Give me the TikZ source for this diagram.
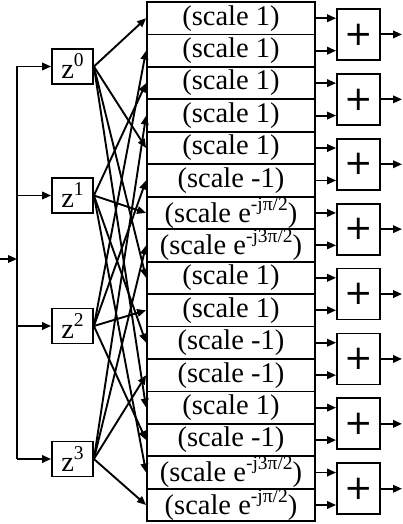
\documentclass[tikz,border=0pt]{standalone}
\usepackage{fontspec}
\setmainfont{Liberation Serif}
\newfontfamily\plusfont{DejaVu Sans}
\usetikzlibrary{arrows.meta}
\newcommand\supx[1]{\raisebox{0.42em}{\fontsize{19.5}{20}\selectfont #1}}
\begin{document}
\begin{tikzpicture}[x=1pt,y=-1pt,
  box/.style={draw,line width=1.8pt,inner sep=0pt,font=\fontsize{28.5}{30}\selectfont},
  scalebox/.style={box,minimum width=168pt,minimum height=32.45pt},
  delaybox/.style={box,minimum width=41pt,minimum height=35pt},
  sumbox/.style={box,minimum width=43pt,minimum height=51pt,font=\plusfont\fontsize{34}{34}\selectfont},
  wire/.style={line width=1.9pt},
  conn/.style={wire,-{Triangle[length=9pt,width=7.5pt]}}]
\useasboundingbox (0,0) rectangle (403,524);
% scale boxes
\foreach \i/\t in {1/{(scale 1)},2/{(scale 1)},3/{(scale 1)},4/{(scale 1)},
  5/{(scale 1)},6/{(scale -1)},7/{(scale e\supx{-jπ/2})},8/{(scale e\supx{-j3π/2})},
  9/{(scale 1)},10/{(scale 1)},11/{(scale -1)},12/{(scale -1)},
  13/{(scale 1)},14/{(scale -1)},15/{(scale e\supx{-j3π/2})},16/{(scale e\supx{-jπ/2})}}
  \node[scalebox] (s\i) at (231,{2+32.45*(\i-0.5)}) {\t};
% adders
\foreach \k in {1,...,8}{
  \node[sumbox] (p\k) at (358.5,{2+32.45*(2*\k-1)}) {+};
  \coordinate (o\k) at (402,{2+32.45*(2*\k-1)});
  \draw[conn] (p\k.east) -- (o\k);
}
\foreach \i/\k in {1/1,2/1,3/2,4/2,5/3,6/3,7/4,8/4,9/5,10/5,11/6,12/6,13/7,14/7,15/8,16/8}
  \draw[conn] (s\i.east) -- (s\i.east -| p\k.west);
% delays
\node[delaybox] (z0) at (72.5,66.5) {z\supx{0}};
\node[delaybox] (z1) at (72.5,195.5) {z\supx{1}};
\node[delaybox] (z2) at (72.5,326) {z\supx{2}};
\node[delaybox] (z3) at (72.5,459) {z\supx{3}};
% input
\coordinate (in) at (0,259);
\coordinate (bus) at (17,259);
\draw[conn] (in) -- (bus);
\draw[wire] (z0.west -| bus) -- (z3.west -| bus);
\foreach \n in {0,...,3}
  \draw[conn] (z\n.west -| bus) -- (z\n.west);
% fan-out
\foreach \n/\a/\b/\c/\d in {0/1/5/9/13,2/2/6/10/14,1/3/7/11/15,3/4/8/12/16}{
  \foreach \j in {\a,\b,\c,\d}
    \draw[conn] (z\n.east) -- (s\j.west);
}
\end{tikzpicture}
\end{document}
